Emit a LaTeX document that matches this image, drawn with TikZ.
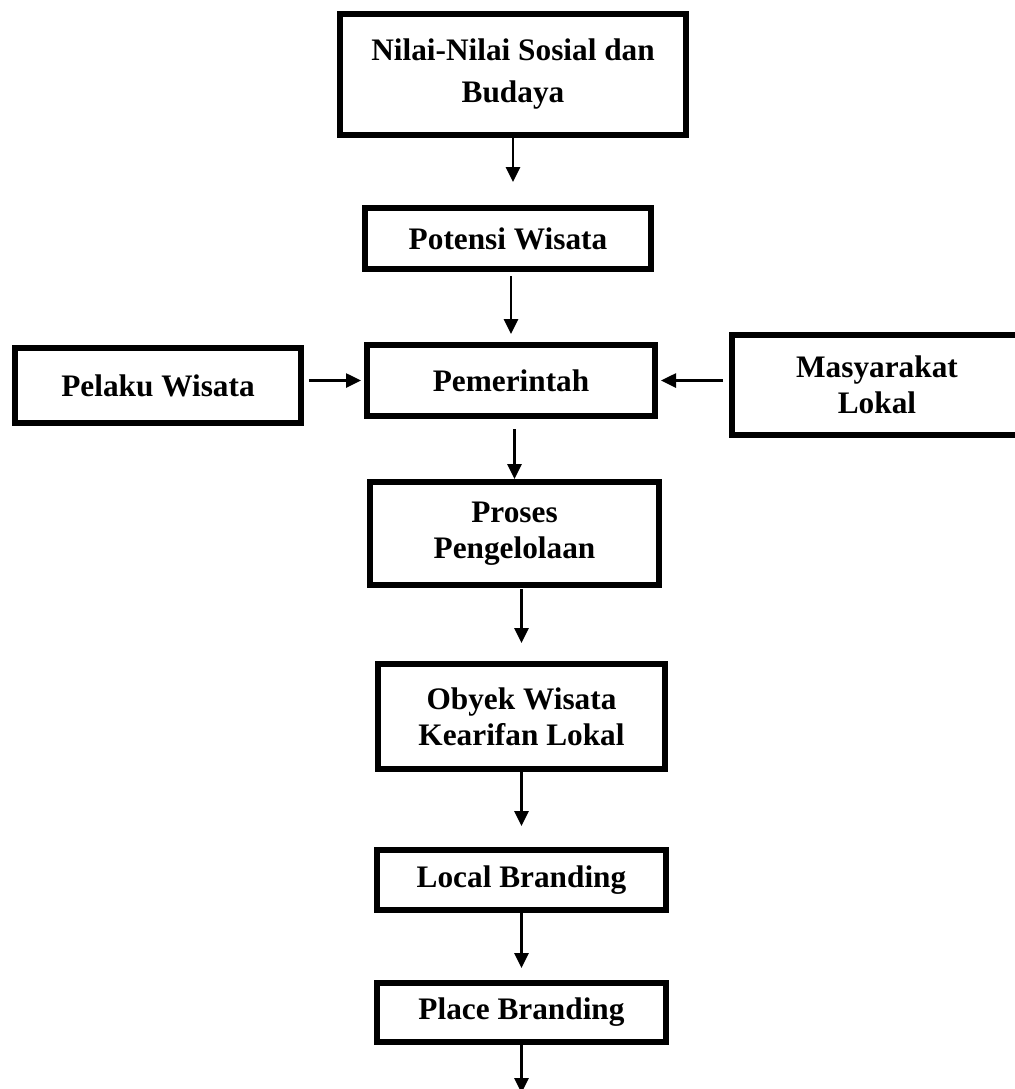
\documentclass[tikz,border=0pt]{standalone}
\usepackage{fontspec}
\setmainfont{Liberation Serif}
\usetikzlibrary{arrows.meta}
\begin{document}
\begin{tikzpicture}[x=0.5pt,y=-0.5pt,
  boxnode/.style={draw=black, line width=3pt, rectangle, inner sep=0pt,
    font=\fontsize{15.65}{18}\selectfont\bfseries, align=center},
  arr/.style={line width=1.3pt, -{Triangle[length=7.5pt,width=7pt]}}]
\useasboundingbox (0,0) rectangle (1015,1089);
\clip (0,0) rectangle (1015,1089);
\node[boxnode, minimum width=173pt, minimum height=60.5pt,
  font=\fontsize{15.65}{21}\selectfont\bfseries] (b1) at (513,74.5) {Nilai-Nilai Sosial dan\\Budaya};
\node[boxnode, minimum width=143pt, minimum height=30.5pt] (b2) at (508,238.5) {Potensi Wisata};
\node[boxnode, minimum width=144pt, minimum height=35.5pt] (b3) at (511,380.5) {Pemerintah};
\node[boxnode, minimum width=143pt, minimum height=37.5pt] (pel) at (158,385.5) {Pelaku Wisata};
\node[boxnode, minimum width=145pt, minimum height=50pt] (mas) at (877,385) {Masyarakat\\Lokal};
\node[boxnode, minimum width=144.5pt, minimum height=51.5pt] (pr) at (514.5,533.5) {Proses\\Pengelolaan};
\node[boxnode, minimum width=143.5pt, minimum height=52.5pt] (ob) at (521.5,716.5) {Obyek Wisata\\Kearifan Lokal};
\node[boxnode, minimum width=144.5pt, minimum height=30pt] (lb) at (521.5,880) {Local Branding};
\node[boxnode, minimum width=144.5pt, minimum height=29.5pt] (pb) at (521.5,1012.5) {Place Branding};
\coordinate (end) at (521.5,1093);

\draw[arr, shorten >=11.5pt] (b1.south) -- (b1.south |- b2.north);
\draw[arr, shorten <=2pt, shorten >=4pt] (b3.north |- b2.south) -- (b3.north);
\draw[arr, shorten <=2.5pt, shorten >=1.5pt] (pel.east |- b3.center) -- (b3.west |- b3.center);
\draw[arr, shorten <=3pt, shorten >=1.5pt] (mas.west |- b3.center) -- (b3.east |- b3.center);
\draw[arr, shorten <=5pt] (pr.north |- b3.south) -- (pr.north);
\draw[arr, shorten <=0.5pt, shorten >=9pt] (ob.north |- pr.south) -- (ob.north);
\draw[arr, shorten >=10.5pt] (ob.south) -- (lb.north);
\draw[arr, shorten >=6pt] (lb.south) -- (pb.north);
\draw[arr] (pb.south) -- (end);
\end{tikzpicture}
\end{document}
